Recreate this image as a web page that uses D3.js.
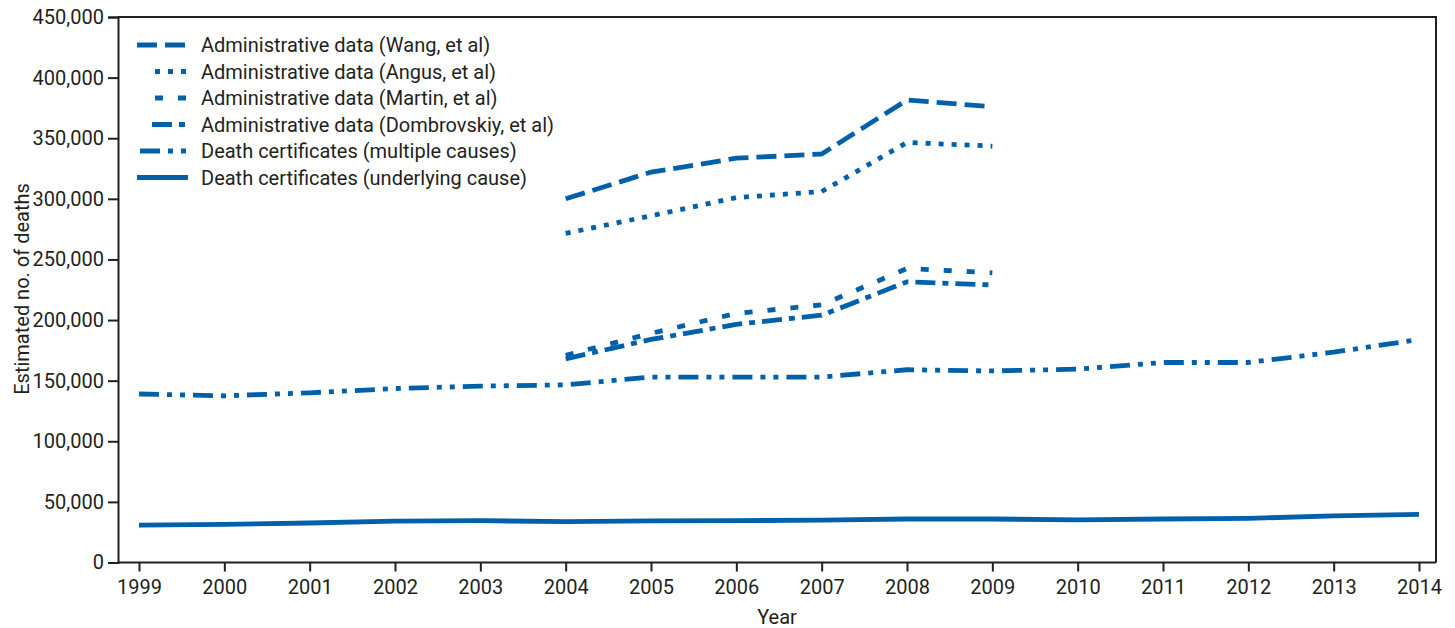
<!DOCTYPE html>
<html>
<head>
<meta charset="utf-8">
<script src="https://cdn.jsdelivr.net/npm/d3@7"></script>
<style>
  body { margin: 0; background: #fff; }
  text { font-family: Roboto, "Noto Sans", sans-serif; fill: #231f20; }
</style>
</head>
<body>
<svg id="chart" width="1455" height="628"></svg>
<script>
// data
var years = [1999, 2000, 2001, 2002, 2003, 2004, 2005, 2006, 2007, 2008, 2009, 2010, 2011, 2012, 2013, 2014];
var adminYears = [2004, 2005, 2006, 2007, 2008, 2009];

var wang        = [300000, 322000, 333500, 337000, 381500, 376000];
var angus       = [271500, 286000, 301000, 306000, 346500, 343500];
var martin      = [171000, 189000, 205500, 212500, 242500, 239000];
var dombrovskiy = [168000, 184000, 196500, 204000, 231500, 229000];
var multipleCauses = [139000, 137500, 140000, 143500, 145500, 146500, 153000, 153000, 153000,
                      159000, 158000, 159500, 165000, 165000, 173500, 184000];
var underlyingCause = [30900, 31500, 32600, 34200, 34500, 33700, 34300, 34500, 35000,
                       35900, 35900, 35100, 35900, 36400, 38400, 39700];

var seriesNames = [
    "Administrative data (Wang, et al)",
    "Administrative data (Angus, et al)",
    "Administrative data (Martin, et al)",
    "Administrative data (Dombrovskiy, et al)",
    "Death certificates (multiple causes)",
    "Death certificates (underlying cause)"
];
var yTicks = [0, 50000, 100000, 150000, 200000, 250000, 300000, 350000, 400000, 450000];

// line styles, same order as seriesNames
var dashes = ["20,8", "5,8", "8,15", "20,7,6,7", "20,8,5,8,5,8", null];
var legendStart = [137, 155, 155, 152, 140, 137];

var blue = "#0060a9";
var margin = {left: 118, right: 19, top: 17, bottom: 65.5};
var width = 1455, height = 628;

var svg = d3.select("#chart");

var x = d3.scaleLinear()
    .domain([1999, 2014])
    .range([139, 1419]);
var y = d3.scaleLinear()
    .domain([0, 450000])
    .range([height - margin.bottom, margin.top]);

// frame (top + right)
svg.append("path")
    .attr("d", "M" + margin.left + "," + margin.top + "H" + (width - margin.right) + "V" + y(0))
    .attr("fill", "none")
    .attr("stroke", "#231f20")
    .attr("stroke-width", 2);

// y axis
var yAxis = svg.append("g")
    .attr("transform", "translate(" + margin.left + ",0)")
    .call(d3.axisLeft(y).tickValues(yTicks).tickSize(10).tickPadding(4).tickFormat(d3.format(",")));
// x axis
var xAxis = svg.append("g")
    .attr("transform", "translate(0," + y(0) + ")")
    .call(d3.axisBottom(x).tickValues(years).tickSize(9).tickPadding(8).tickFormat(d3.format("d")));
xAxis.select(".domain").attr("d", "M" + margin.left + ",0H" + (width - margin.right));

[yAxis, xAxis].forEach(function (ax) {
    ax.selectAll(".domain, line").attr("stroke", "#231f20").attr("stroke-width", 2);
    ax.selectAll("text").style("font-size", "20px").attr("fill", "#231f20");
});

// axis titles
svg.append("text")
    .attr("transform", "translate(29,289) rotate(-90)")
    .attr("text-anchor", "middle")
    .style("font-size", "20px")
    .text("Estimated no. of deaths");
svg.append("text")
    .attr("x", (margin.left + width - margin.right) / 2)
    .attr("y", 624)
    .attr("text-anchor", "middle")
    .style("font-size", "20px")
    .text("Year");

// lines
var line = d3.line()
    .x(function (d) { return x(d[0]); })
    .y(function (d) { return y(d[1]); });

var allSeries = [
    d3.zip(adminYears, wang),
    d3.zip(adminYears, angus),
    d3.zip(adminYears, martin),
    d3.zip(adminYears, dombrovskiy),
    d3.zip(years, multipleCauses),
    d3.zip(years, underlyingCause)
];

svg.append("g").selectAll("path")
    .data(allSeries)
    .join("path")
    .attr("d", line)
    .attr("fill", "none")
    .attr("stroke", blue)
    .attr("stroke-width", 4.8)
    .attr("stroke-linejoin", "round")
    .attr("stroke-dasharray", function (d, i) { return dashes[i]; });

// legend
var legend = svg.append("g").selectAll("g")
    .data(seriesNames)
    .join("g")
    .attr("transform", function (d, i) { return "translate(0," + (45 + i * 26.5) + ")"; });

legend.append("line")
    .attr("x1", function (d, i) { return legendStart[i]; })
    .attr("x2", 188)
    .attr("stroke", blue)
    .attr("stroke-width", 4.8)
    .attr("stroke-dasharray", function (d, i) { return dashes[i]; });

legend.append("text")
    .attr("x", 201)
    .attr("dy", "0.35em")
    .style("font-size", "20px")
    .text(function (d) { return d; });
</script>
</body>
</html>
